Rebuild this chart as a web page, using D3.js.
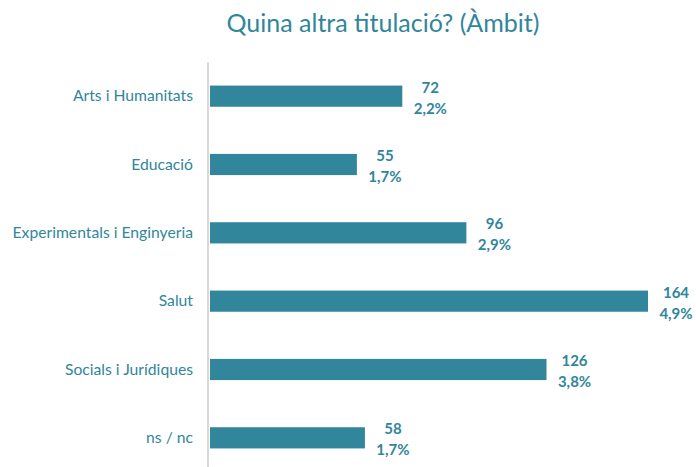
<!DOCTYPE html>
<html>
<head>
<meta charset="utf-8">
<script src="https://cdn.jsdelivr.net/npm/d3@7"></script>
<style>
  body { margin: 0; background: #fff; }
  svg text { font-family: Lato, "Open Sans", sans-serif; }
</style>
</head>
<body>
<div id="chart"></div>
<script>
// Quina altra titulació? (Àmbit)
const categories = ["Arts i Humanitats", "Educació", "Experimentals i Enginyeria", "Salut", "Socials i Jurídiques", "ns / nc"];
const counts = [72, 55, 96, 164, 126, 58];
const percents = ["2,2%", "1,7%", "2,9%", "4,9%", "3,8%", "1,7%"];

const width = 696, height = 467;
const teal = "#31869b";

const svg = d3.select("#chart")
    .append("svg")
    .attr("width", width)
    .attr("height", height);

svg.append("text")
    .attr("x", 383)
    .attr("y", 32)
    .attr("text-anchor", "middle")
    .style("font-size", "25px")
    .style("fill", teal)
    .text("Quina altra titulació? (Àmbit)");

const x = d3.scaleLinear()
    .domain([0, d3.max(counts)])
    .range([210, 648]);

const y = d3.scaleBand()
    .domain(categories)
    .range([62, 472])
    .paddingInner(0.69)
    .paddingOuter(0.345);

// category axis
const yAxis = svg.append("g")
    .attr("transform", "translate(208,0)")
    .call(d3.axisLeft(y).tickSize(0).tickPadding(15));
yAxis.select(".domain").attr("stroke", "#d9d9d9").attr("stroke-width", 2).attr("d", "M0,62V467");
yAxis.selectAll("text")
    .style("font-size", "15.7px")
    .style("fill", teal)
    .attr("font-family", null);

svg.selectAll(".bar")
    .data(counts)
    .enter().append("rect")
    .attr("class", "bar")
    .attr("x", x(0))
    .attr("y", (d, i) => y(categories[i]))
    .attr("width", d => x(d) - x(0))
    .attr("height", y.bandwidth())
    .attr("fill", teal);

// value labels: count on top, percent below
const labels = svg.selectAll(".lbl")
    .data(counts)
    .enter().append("g")
    .attr("class", "lbl")
    .attr("transform", (d, i) => `translate(${x(d) + 28},${y(categories[i]) + y.bandwidth() / 2})`);

labels.append("text")
    .attr("y", -3.5)
    .attr("text-anchor", "middle")
    .style("font-size", "15px")
    .style("font-weight", "bold")
    .style("fill", teal)
    .text(d => d);

labels.append("text")
    .attr("y", 17.5)
    .attr("text-anchor", "middle")
    .style("font-size", "15px")
    .style("font-weight", "bold")
    .style("fill", teal)
    .text((d, i) => percents[i]);
</script>
</body>
</html>
